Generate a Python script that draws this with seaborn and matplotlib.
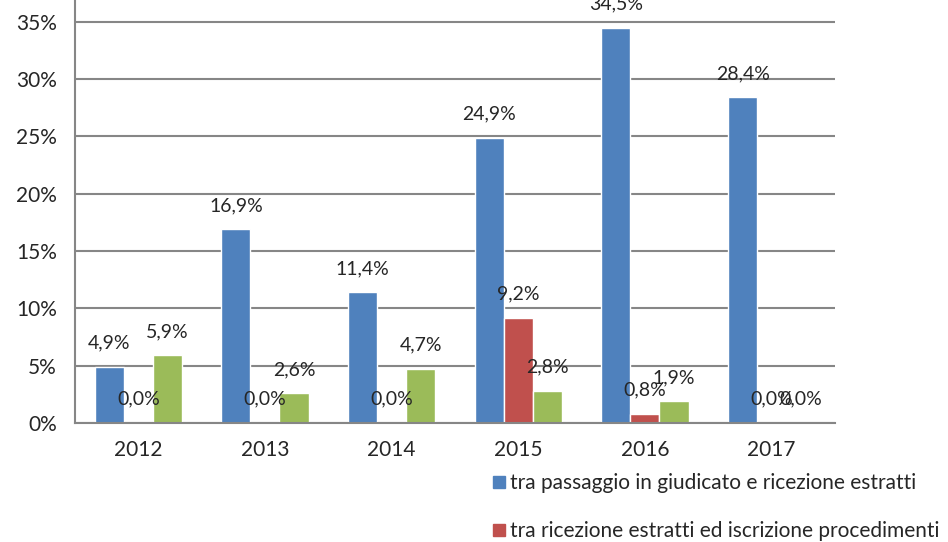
import pandas as pd
import seaborn as sns
import matplotlib.pyplot as plt
from matplotlib.patches import Patch
from matplotlib.ticker import FuncFormatter

years = ["2012", "2013", "2014", "2015", "2016", "2017"]
series_names = [
    "tra passaggio in giudicato e ricezione estratti",
    "tra ricezione estratti ed iscrizione procedimenti",
    "terza serie",
]
giudicato_ricezione = [4.9, 16.9, 11.4, 24.9, 34.5, 28.4]
ricezione_iscrizione = [0.0, 0.0, 0.0, 9.2, 0.8, 0.0]
terza_serie = [5.9, 2.6, 4.7, 2.8, 1.9, 0.0]
colors = ["#4F81BD", "#C0504D", "#9BBB59"]

df = pd.DataFrame({
    "anno": years * 3,
    "serie": [series_names[0]] * 6 + [series_names[1]] * 6 + [series_names[2]] * 6,
    "valore": giudicato_ricezione + ricezione_iscrizione + terza_serie,
})

sns.set_style("white")
plt.rcParams["font.family"] = ["Lato", "DejaVu Sans"]

fig = plt.figure(figsize=(9.48, 5.42), dpi=100)
ax = fig.add_axes([0.0791, 0.2196, 0.8017, 0.8458])

sns.barplot(data=df, x="anno", y="valore", hue="serie", palette=colors,
            width=0.687, gap=0, ax=ax, legend=False, saturation=1)

ax.set_ylim(0, 40)
ax.set_xlim(-0.5, 5.5)
ax.set_yticks(range(0, 40, 5))
ax.yaxis.set_major_formatter(FuncFormatter(lambda v, p: f"{int(v)}%"))
ax.grid(axis="y", color="#868686", linewidth=1.5)
ax.set_axisbelow(True)
ax.set_xlabel("")
ax.set_ylabel("")

for s in ["top", "right"]:
    ax.spines[s].set_visible(False)
for s in ["left", "bottom"]:
    ax.spines[s].set_color("#868686")
    ax.spines[s].set_linewidth(1.5)

ax.tick_params(axis="x", which="major", length=0, labelsize=15, pad=12)
ax.set_xticks([i - 0.5 for i in range(7)], minor=True)
ax.tick_params(axis="x", which="minor", length=7, width=1.5, color="#868686", direction="out")
ax.tick_params(axis="y", length=7, width=1.5, color="#868686", direction="out", labelsize=15, pad=6)

for cont, vals in zip(ax.containers, [giudicato_ricezione, ricezione_iscrizione, terza_serie]):
    ax.bar_label(cont, labels=[f"{v:.1f}%".replace(".", ",") for v in vals],
                 padding=11, fontsize=14, clip_on=False)

handles = [Patch(color=colors[i]) for i in range(2)]
fig.legend(handles, series_names[:2], loc="upper left", bbox_to_anchor=(0.5205, 0.127),
           frameon=False, fontsize=15, handlelength=0.55, handleheight=0.55,
           handletextpad=0.25, labelspacing=1.35, borderaxespad=0, borderpad=0)

fig.savefig("out.png", dpi=100)
